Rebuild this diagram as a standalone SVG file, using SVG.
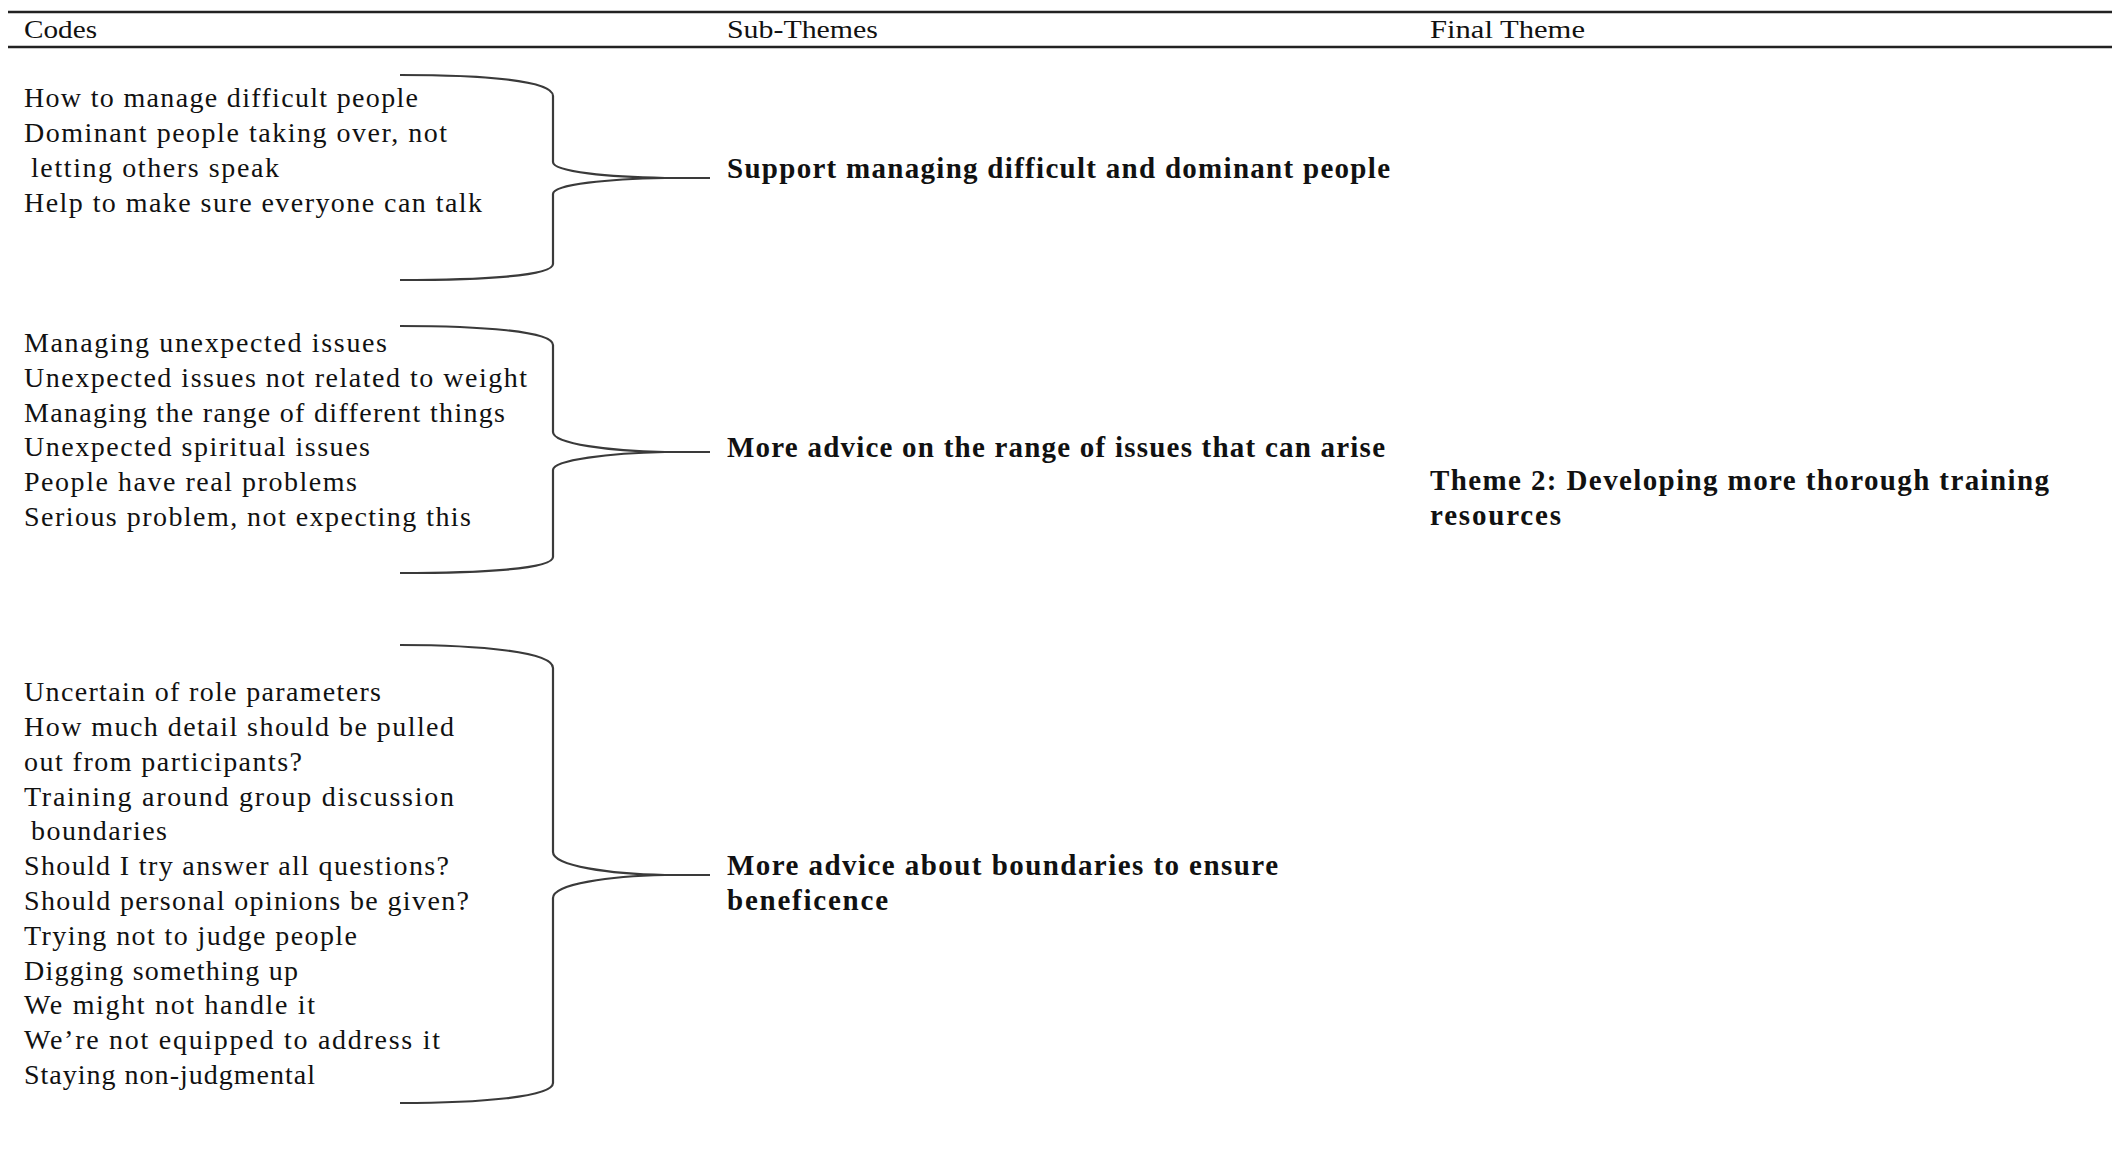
<svg xmlns="http://www.w3.org/2000/svg" width="2112" height="1175" viewBox="0 0 2112 1175">
  <style>
    .hd { font-family: "Liberation Serif", "Times New Roman", serif; font-size: 25px; fill: #111; }
    .code { font-family: "Liberation Serif", "Times New Roman", serif; font-size: 28px; fill: #111; }
    .sub { font-family: "Liberation Serif", "Times New Roman", serif; font-size: 29px; font-weight: bold; fill: #111; }
    .rule { stroke: #222; stroke-width: 2.4; fill: none; }
    .brace { stroke: #3a3a3a; stroke-width: 2.2; fill: none; stroke-linecap: butt; stroke-linejoin: round; }
  </style>
  <rect x="0" y="0" width="2112" height="1175" fill="#ffffff"/>

  <!-- Table header -->
  <g id="header">
    <line class="rule" x1="8" y1="12" x2="2112" y2="12"/>
    <line class="rule" x1="8" y1="47" x2="2112" y2="47"/>
    <text class="hd" x="24" y="38" textLength="73" lengthAdjust="spacingAndGlyphs">Codes</text>
    <text class="hd" x="727" y="38" textLength="151" lengthAdjust="spacingAndGlyphs">Sub-Themes</text>
    <text class="hd" x="1430" y="38" textLength="155" lengthAdjust="spacingAndGlyphs">Final Theme</text>
  </g>

  <!-- Code groups -->
  <g id="codes-difficult-people" class="code">
    <text x="24" y="107" textLength="394" lengthAdjust="spacing">How to manage  difficult people</text>
    <text x="24" y="142" textLength="423" lengthAdjust="spacing">Dominant people taking over, not</text>
    <text x="31" y="177" textLength="248" lengthAdjust="spacing">letting others speak</text>
    <text x="24" y="212" textLength="458" lengthAdjust="spacing">Help to make sure everyone can talk</text>
  </g>

  <g id="codes-unexpected-issues" class="code">
    <text x="24" y="352" textLength="363" lengthAdjust="spacing">Managing  unexpected  issues</text>
    <text x="24" y="387" textLength="503" lengthAdjust="spacing">Unexpected  issues not related to weight</text>
    <text x="24" y="422" textLength="481" lengthAdjust="spacing">Managing  the range of different things</text>
    <text x="24" y="456" textLength="346" lengthAdjust="spacing">Unexpected  spiritual issues</text>
    <text x="24" y="491" textLength="333" lengthAdjust="spacing">People have real problems</text>
    <text x="24" y="526" textLength="447" lengthAdjust="spacing">Serious problem,  not expecting this</text>
  </g>

  <g id="codes-boundaries" class="code">
    <text x="24" y="701" textLength="357" lengthAdjust="spacing">Uncertain  of role parameters</text>
    <text x="24" y="736" textLength="430" lengthAdjust="spacing">How much detail should be pulled</text>
    <text x="24" y="771" textLength="278" lengthAdjust="spacing">out from participants?</text>
    <text x="24" y="806" textLength="430" lengthAdjust="spacing">Training around group discussion</text>
    <text x="31" y="840" textLength="136" lengthAdjust="spacing">boundaries</text>
    <text x="24" y="875" textLength="425" lengthAdjust="spacing">Should I try answer all questions?</text>
    <text x="24" y="910" textLength="445" lengthAdjust="spacing">Should personal  opinions be given?</text>
    <text x="24" y="945" textLength="333" lengthAdjust="spacing">Trying not to judge  people</text>
    <text x="24" y="980" textLength="274" lengthAdjust="spacing">Digging something up</text>
    <text x="24" y="1014" textLength="291" lengthAdjust="spacing">We might not handle it</text>
    <text x="24" y="1049" textLength="416" lengthAdjust="spacing">We’re not equipped to address  it</text>
    <text x="24" y="1084" textLength="291" lengthAdjust="spacing">Staying non-judgmental</text>
  </g>

  <!-- Sub-themes -->
  <g id="sub-theme-1" class="sub">
    <text x="727" y="178" textLength="663" lengthAdjust="spacing">Support managing difficult and dominant people</text>
  </g>
  <g id="sub-theme-2" class="sub">
    <text x="727" y="457" textLength="658" lengthAdjust="spacing">More advice on the range of issues that can arise</text>
  </g>
  <g id="sub-theme-3" class="sub">
    <text x="727" y="875" textLength="551" lengthAdjust="spacing">More advice about boundaries to ensure</text>
    <text x="727" y="910" textLength="161" lengthAdjust="spacing">beneficence</text>
  </g>

  <!-- Final theme -->
  <g id="final-theme" class="sub">
    <text x="1430" y="490" textLength="619" lengthAdjust="spacing">Theme 2: Developing more thorough training</text>
    <text x="1430" y="525" textLength="131" lengthAdjust="spacing">resources</text>
  </g>

  <!-- Curly braces linking codes to sub-themes -->
  <g id="connectors">
    <path class="brace" d="M400,75 C480,75 553,80 553,96 L553,162 C553,172 610,177 665,178 L710,178"/>
    <path class="brace" d="M665,178 C610,179 553,184 553,194 L553,264 C553,276 480,280 400,280"/>

    <path class="brace" d="M400,326 C480,326 553,331 553,345 L553,432 C553,444 610,451 665,452 L710,452"/>
    <path class="brace" d="M665,452 C610,453 553,460 553,470 L553,557 C553,569 480,573 400,573"/>

    <path class="brace" d="M400,645 C480,645 553,652 553,668 L553,852 C553,866 610,874 665,875 L710,875"/>
    <path class="brace" d="M665,875 C610,876 553,884 553,898 L553,1083 C553,1097 480,1103 400,1103"/>
  </g>
</svg>
